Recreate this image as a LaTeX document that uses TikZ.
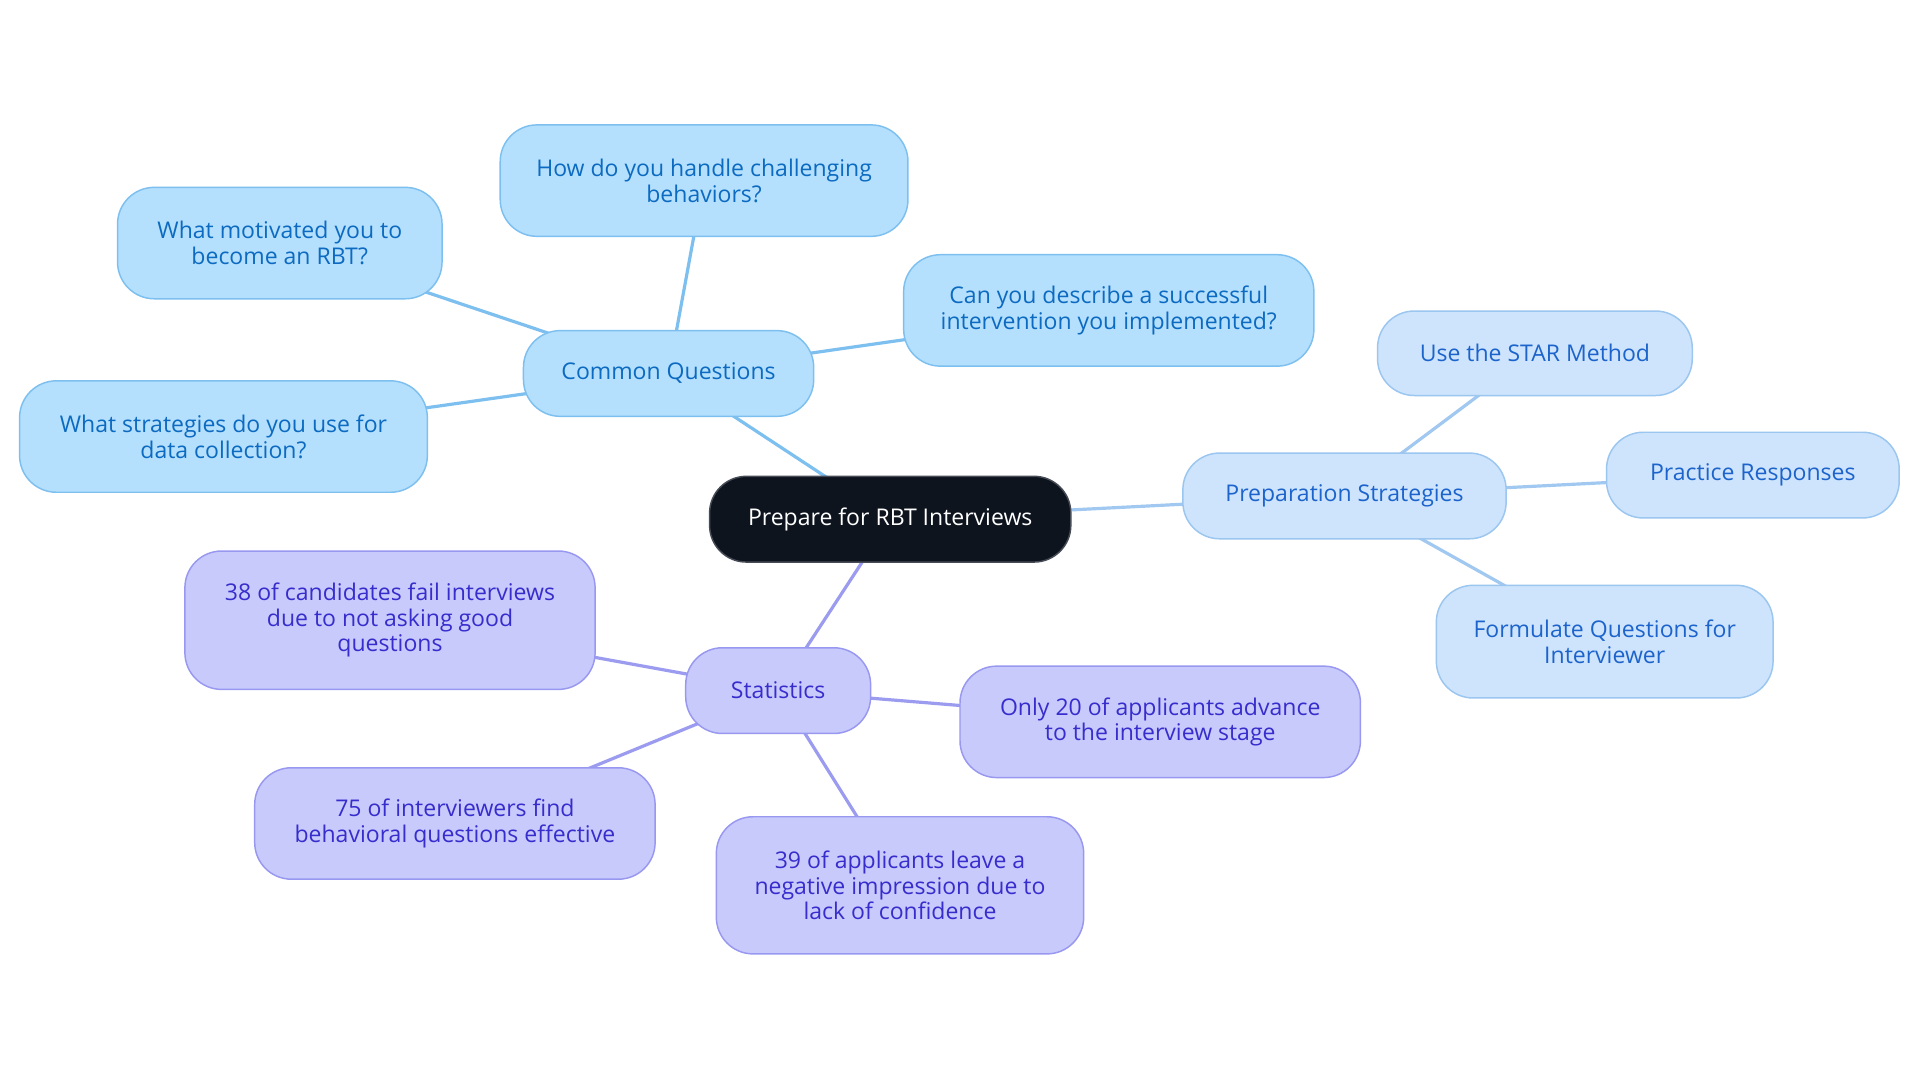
\documentclass[tikz,border=0pt]{standalone}
\usepackage{fontspec}
\setmainfont{Open Sans}
\usetikzlibrary{backgrounds}
\definecolor{cqfill}{RGB}{180,224,254}
\definecolor{cqdraw}{RGB}{125,192,240}
\definecolor{cqtext}{RGB}{12,106,192}
\definecolor{cqline}{RGB}{125,192,240}
\definecolor{psfill}{RGB}{206,228,252}
\definecolor{psdraw}{RGB}{155,198,240}
\definecolor{pstext}{RGB}{28,100,204}
\definecolor{psline}{RGB}{160,200,240}
\definecolor{stfill}{RGB}{200,202,252}
\definecolor{stdraw}{RGB}{152,152,240}
\definecolor{sttext}{RGB}{55,45,205}
\definecolor{stline}{RGB}{155,155,240}
\definecolor{rootfill}{RGB}{13,20,30}
\definecolor{rootdraw}{RGB}{70,75,85}
\tikzset{
  base/.style={rectangle, rounded corners=30pt, align=center, inner sep=0pt,
    line width=1.2pt, font=\fontsize{18.8}{21}\selectfont},
  rootbox/.style={base, fill=rootfill, draw=rootdraw, text=white},
  cqbox/.style={base, fill=cqfill, draw=cqdraw, text=cqtext},
  psbox/.style={base, fill=psfill, draw=psdraw, text=pstext},
  stbox/.style={base, fill=stfill, draw=stdraw, text=sttext},
  cqedge/.style={draw=cqline, line width=2.6pt},
  psedge/.style={draw=psline, line width=2.6pt},
  stedge/.style={draw=stline, line width=2.6pt},
}
\begin{document}
\begin{tikzpicture}[x=1pt, y=-1pt]
\useasboundingbox (0,0) rectangle (1568,884.5);
% root
\node[rootbox, minimum width=295pt, minimum height=70pt] (root) at (727,424) {Prepare for RBT Interviews};
% common questions
\node[cqbox, minimum width=237pt, minimum height=70pt] (cq) at (546,305) {Common Questions};
\node[cqbox, minimum width=333pt, minimum height=91pt] (how) at (575,147.5) {How do you handle challenging\\behaviors?};
\node[cqbox, minimum width=265pt, minimum height=91pt] (mot) at (228.5,198.5) {What motivated you to\\become an RBT?};
\node[cqbox, minimum width=335pt, minimum height=91pt] (desc) at (905.5,253.5) {Can you describe a successful\\intervention you implemented?};
\node[cqbox, minimum width=333pt, minimum height=91pt] (strat) at (182.5,356.5) {What strategies do you use for\\data collection?};
% preparation strategies
\node[psbox, minimum width=264pt, minimum height=70pt] (ps) at (1098,405) {Preparation Strategies};
\node[psbox, minimum width=257pt, minimum height=69pt] (star) at (1253.5,288.5) {Use the STAR Method};
\node[psbox, minimum width=239pt, minimum height=70pt] (prac) at (1431.5,388) {Practice Responses};
\node[psbox, minimum width=275pt, minimum height=92pt] (form) at (1310.5,524) {Formulate Questions for\\Interviewer};
% statistics
\node[stbox, minimum width=151pt, minimum height=70pt] (st) at (635.5,564) {Statistics};
\node[stbox, minimum width=335pt, minimum height=113pt] (s38) at (318.5,506.5) {38 of candidates fail interviews\\due to not asking good\\questions};
\node[stbox, minimum width=327pt, minimum height=91pt] (s20) at (947.5,589.5) {Only 20 of applicants advance\\to the interview stage};
\node[stbox, minimum width=327pt, minimum height=91pt] (s75) at (371.5,672.5) {75 of interviewers find\\behavioral questions effective};
\node[stbox, minimum width=300pt, minimum height=112pt] (s39) at (735,723) {39 of applicants leave a\\negative impression due to\\lack of confidence};
\begin{pgfonlayer}{background}
\fill[white] (0,0) rectangle (1568,884.5);
\path[cqedge] (root.center) -- (cq.center);
\path[cqedge] (cq.center) -- (how.center);
\path[cqedge] (cq.center) -- (mot.center);
\path[cqedge] (cq.center) -- (desc.center);
\path[cqedge] (cq.center) -- (strat.center);
\path[psedge] (root.center) -- (ps.center);
\path[psedge] (ps.center) -- (star.center);
\path[psedge] (ps.center) -- (prac.center);
\path[psedge] (ps.center) -- (form.center);
\path[stedge] (root.center) -- (st.center);
\path[stedge] (st.center) -- (s38.center);
\path[stedge] (st.center) -- (s20.center);
\path[stedge] (st.center) -- (s75.center);
\path[stedge] (st.center) -- (s39.center);
\end{pgfonlayer}
\end{tikzpicture}
\end{document}
